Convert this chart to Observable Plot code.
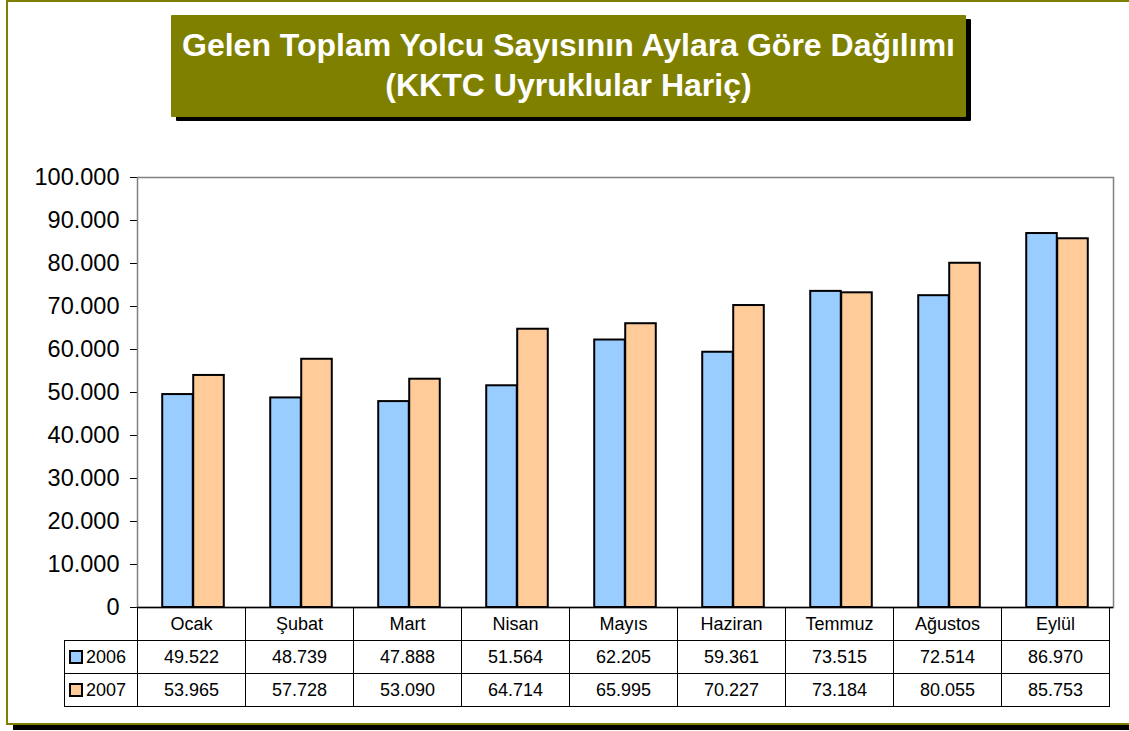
<!DOCTYPE html>
<html><head><meta charset="utf-8">
<script src="https://cdn.jsdelivr.net/npm/d3@7"></script>
<script src="https://cdn.jsdelivr.net/npm/@observablehq/plot@0.6"></script>
<style>
body{margin:0;background:#fff;overflow:hidden;font-family:Arial,"Liberation Sans",sans-serif;}
#wrap{position:relative;width:1129px;height:731px;overflow:hidden;}
#frame{position:absolute;left:6px;top:0;width:1140px;height:721px;border:2.5px solid #808000;box-shadow:7px 5px 0 #000;}
#title{position:absolute;left:171px;top:15px;width:795px;height:102px;background:#808000;box-shadow:5px 4px 0 #000;color:#fff;font-weight:bold;font-size:32px;line-height:40px;text-align:center;padding-top:10px;box-sizing:border-box;border-radius:1px;white-space:nowrap;}
#chart{position:absolute;left:0;top:150px;}
#tbl{position:absolute;border-collapse:collapse;table-layout:fixed;font-size:18px;color:#000;}
#tbl td{border:1px solid #000;padding:0;text-align:center;overflow:hidden;white-space:nowrap;}
#tbl tr{height:33px;}
.sw{display:inline-block;width:10px;height:10px;border:2px solid #000;margin-right:3px;vertical-align:-1px;}
</style></head>
<body>
<div id="wrap">
  <div id="frame"></div>
  <div id="title">Gelen Toplam Yolcu Sayısının Aylara Göre Dağılımı<br>(KKTC Uyruklular Hariç)</div>
  <div id="chart"></div>
  <table id="tbl"></table>
</div>
<script>
const months = ["Ocak","Şubat","Mart","Nisan","Mayıs","Haziran","Temmuz","Ağustos","Eylül"];
const years = ["2006","2007"];
const values2006 = [49522,48739,47888,51564,62205,59361,73515,72514,86970];
const values2007 = [53965,57728,53090,64714,65995,70227,73184,80055,85753];
const colors = ["#99CCFF","#FFCC99"];

const rows = months.flatMap((m,i)=>[
  {month:m, year:"2006", value:values2006[i]},
  {month:m, year:"2007", value:values2007[i]}
]);
const fmt = d3.formatLocale({decimal:",", thousands:".", grouping:[3], currency:["",""]}).format(",d");

const W=1129, H=470, ML=137, MR=16, MT=27, MB=13, TOP=150;
const bw = (W-ML-MR)/months.length;
const barW = 31;
const outer = (bw-2*barW)/2;

const chart = Plot.plot({
  width:W, height:H, marginLeft:ML, marginRight:MR, marginTop:MT, marginBottom:MB,
  style:{background:"transparent", fontSize:"23.5px", fontFamily:"Arial, 'Liberation Sans', sans-serif", color:"#000"},
  x:{domain:months, padding:0, axis:null},
  y:{domain:[0,100000], ticks:10, tickFormat:fmt, tickSize:7, tickPadding:11, line:true, label:null},
  color:{domain:years, range:colors},
  marks:[
    Plot.frame({stroke:"#808080", strokeWidth:1.5}),
    Plot.barY(rows.filter(d=>d.year==="2006"), {x:"month", y:"value", fill:"year", stroke:"#000", strokeWidth:2, insetLeft:outer, insetRight:outer+barW}),
    Plot.barY(rows.filter(d=>d.year==="2007"), {x:"month", y:"value", fill:"year", stroke:"#000", strokeWidth:2, insetLeft:outer+barW, insetRight:outer}),
    Plot.ruleY([0], {stroke:"#000", strokeWidth:1.5})
  ]
});
document.getElementById("chart").appendChild(chart);

// data table below the chart, aligned with the x scale
const xs = chart.scale("x");
const band = xs.bandwidth;
const tbl = document.getElementById("tbl");
const legendW = 73;
tbl.style.left = (ML-legendW)+"px";
tbl.style.top = (TOP+H-MB)+"px";
let html = "<colgroup><col style='width:"+legendW+"px'>" + months.map(()=>"<col style='width:"+band+"px'>").join("") + "</colgroup>";
html += "<tr><td style='border:none'></td>" + months.map(m=>"<td>"+m+"</td>").join("") + "</tr>";
[values2006, values2007].forEach((vals,k)=>{
  html += "<tr><td style='text-align:left;padding-left:4px'><span class='sw' style='background:"+colors[k]+"'></span>"+years[k]+"</td>" +
    vals.map(v=>"<td>"+fmt(v)+"</td>").join("") + "</tr>";
});
tbl.innerHTML = html;
tbl.style.width = (legendW + band*months.length)+"px";
</script>
</body></html>
